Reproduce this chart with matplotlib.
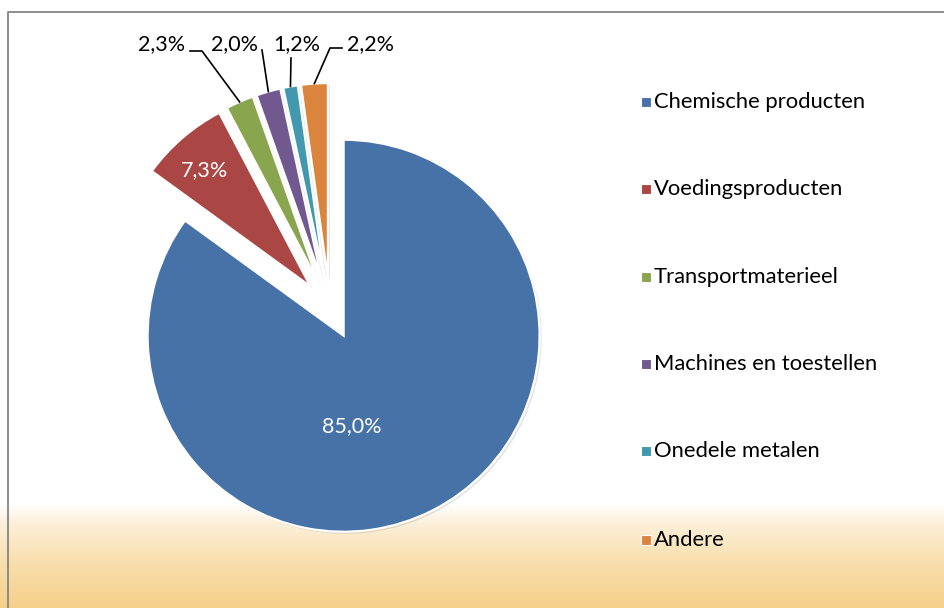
import matplotlib

matplotlib.use("Agg")
import matplotlib.pyplot as plt
import matplotlib.patheffects as pe
import numpy as np
from matplotlib.colors import LinearSegmentedColormap

plt.rcParams["font.family"] = ["Lato", "DejaVu Sans"]

# data
categories = ["Chemische producten", "Voedingsproducten", "Transportmaterieel",
              "Machines en toestellen", "Onedele metalen", "Andere"]
shares = [85.0, 7.3, 2.3, 2.0, 1.2, 2.2]
share_labels = ["85,0%", "7,3%", "2,3%", "2,0%", "1,2%", "2,2%"]
colors = ["#4672A8", "#AA4644", "#89A54E", "#71588F", "#4198AF", "#DB843D"]

W, H = 944, 608
fig = plt.figure(figsize=(W / 100, H / 100), dpi=100)

# background with warm gradient at the bottom
bg = fig.add_axes([0, 0, 1, 1])
bg.set_xlim(0, W)
bg.set_ylim(H, 0)
bg.axis("off")
grad_cmap = LinearSegmentedColormap.from_list(
    "warm", [(0, "#FFFFFF"), (0.2, "#FCEFD9"), (0.55, "#F8DFAE"), (1, "#F5D08A")])
rows = np.linspace(0, 1, 200).reshape(-1, 1)
bg.imshow(rows, cmap=grad_cmap, vmin=0, vmax=1, extent=(0, W, H, 503), aspect="auto")
bg.plot([8, 8, W + 5], [H + 5, 12, 12], color="#858585", linewidth=1.3)

# pie, axes in pixel units (y up)
ax = fig.add_axes([0, 0, 1, 1])
ax.axis("off")
cx, cy, r = 330, H - 309, 196
wedges, _ = ax.pie(shares, colors=colors, startangle=90, counterclock=False,
                   radius=r, center=(cx, cy), explode=[30] * len(shares),
                   wedgeprops=dict(edgecolor="white", linewidth=1.6))
for w in wedges:
    w.set_path_effects([pe.SimplePatchShadow(offset=(1.5, -1.5), alpha=0.12), pe.Normal()])
ax.set_xlim(0, W)
ax.set_ylim(0, H)
ax.set_aspect("equal")

# inside labels
ax.text(352, H - 426, share_labels[0], color="white", fontsize=15.5, ha="center", va="center")
ax.text(205, H - 170, share_labels[1], color="white", fontsize=15.5, ha="center", va="center")

# outside labels with leader lines
label_pos = {2: (185, 44, "right"), 3: (234, 44, "center"), 4: (297, 44, "center"),
             5: (347, 44, "left")}
elbows = {2: [(202, 51), (190, 51)], 3: [(262, 50)], 4: [(291, 58)],
          5: [(330, 48), (342, 48)]}
for i in range(2, 6):
    w = wedges[i]
    mid = np.deg2rad((w.theta1 + w.theta2) / 2)
    wx, wy = w.center
    sx, sy = wx + r * np.cos(mid), wy + r * np.sin(mid)
    xs = [sx] + [p[0] for p in elbows[i]]
    ys = [sy] + [H - p[1] for p in elbows[i]]
    ax.plot(xs, ys, color="black", linewidth=1.2)
    tx, ty, ha = label_pos[i]
    ax.text(tx, H - ty, share_labels[i], color="black", fontsize=15.5, ha=ha, va="center")

# legend
leg_y = [102, 189, 277, 364, 451, 540]
for name, col, y in zip(categories, colors, leg_y):
    ax.scatter([646], [H - y], marker="s", s=56, color=col, edgecolors="white",
               linewidths=0.8)
    ax.text(654, H - y, name, color="black", fontsize=15.8, ha="left", va="center")

fig.savefig("out.png", dpi=100)
